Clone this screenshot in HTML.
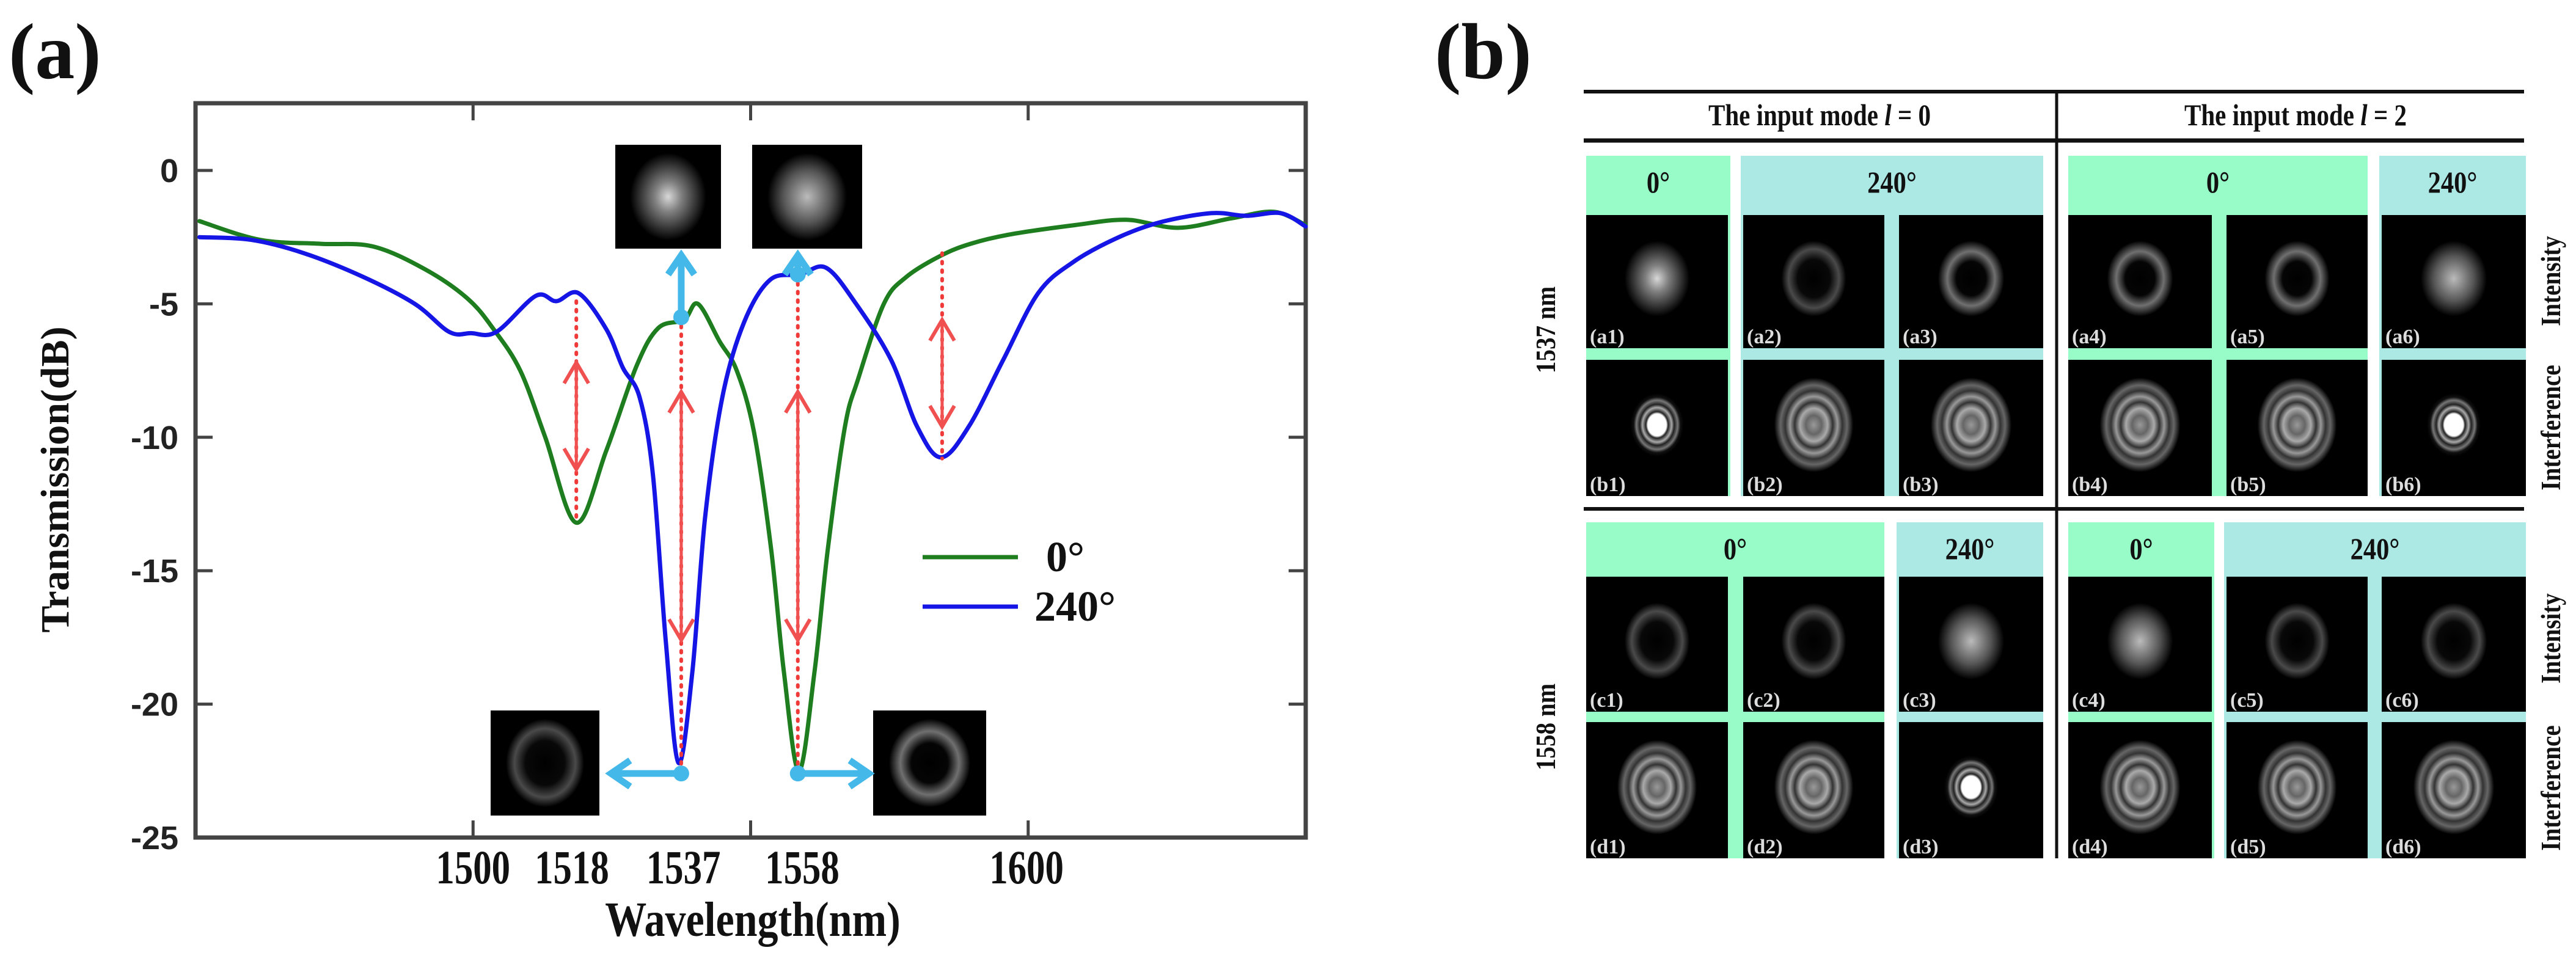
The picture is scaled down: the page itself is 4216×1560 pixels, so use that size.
<!DOCTYPE html>
<html><head><meta charset="utf-8"><style>
html,body{margin:0;padding:0;background:#fff;}
svg{display:block;}
.tk{font-family:"Liberation Sans",sans-serif;font-weight:bold;font-size:54px;fill:#222;}
.sf{font-family:"Liberation Serif",serif;font-weight:bold;fill:#111;}
</style></head><body>
<svg id="root" width="4216" height="1560" viewBox="0 0 4216 1560" xmlns="http://www.w3.org/2000/svg">
<defs>
<radialGradient id="spot"><stop offset="0" stop-color="#d8d8d8"/><stop offset="0.35" stop-color="#808080"/><stop offset="1" stop-color="#000"/></radialGradient>
<radialGradient id="spotw"><stop offset="0" stop-color="#bbb"/><stop offset="0.6" stop-color="#555"/><stop offset="1" stop-color="#000"/></radialGradient>
<radialGradient id="ring"><stop offset="0" stop-color="#000"/><stop offset="0.45" stop-color="#050505"/><stop offset="0.72" stop-color="#707070"/><stop offset="1" stop-color="#000"/></radialGradient>
<radialGradient id="ringd"><stop offset="0" stop-color="#000"/><stop offset="0.5" stop-color="#080808"/><stop offset="0.78" stop-color="#4a4a4a"/><stop offset="1" stop-color="#000"/></radialGradient>
<radialGradient id="bright"><stop offset="0" stop-color="#fff"/><stop offset="0.35" stop-color="#fff"/><stop offset="0.42" stop-color="#222"/><stop offset="0.55" stop-color="#aaa"/><stop offset="0.65" stop-color="#222"/><stop offset="0.78" stop-color="#777"/><stop offset="0.88" stop-color="#111"/><stop offset="1" stop-color="#000"/></radialGradient>
<radialGradient id="spiral"><stop offset="0" stop-color="#999"/><stop offset="0.2" stop-color="#666"/><stop offset="0.35" stop-color="#aaa"/><stop offset="0.48" stop-color="#333"/><stop offset="0.6" stop-color="#999"/><stop offset="0.72" stop-color="#333"/><stop offset="0.84" stop-color="#666"/><stop offset="1" stop-color="#000"/></radialGradient>
</defs>

<text class="sf" x="14" y="128" font-size="130">(a)</text>
<g id="chart"></g>

<text class="sf" x="2348" y="128" font-size="130">(b)</text>
<g id="tbl"></g>
</svg>

<script>
const lam0 = [1450.7,1461.6,1472.6,1482,1491.3,1499,1503.7,1508.5,1513,1518.6,1524,1529.5,1533.4,1538,1540.5,1544.4,1547.5,1550.6,1553.7,1556,1558.7,1561.5,1563.9,1567,1569.4,1574,1578,1584.2,1589.6,1596.7,1608.4,1617.7,1627,1636.5,1644.3,1650];
const db0 = [-1.9,-2.6,-2.75,-2.85,-3.7,-4.8,-5.95,-7.5,-10,-13.2,-10.5,-7.3,-5.9,-5.6,-5.0,-6.4,-7.5,-9.8,-14.2,-18.8,-22.5,-18.8,-14.2,-9.6,-7.8,-5.0,-4.0,-3.2,-2.75,-2.4,-2.05,-1.85,-2.15,-1.8,-1.55,-2.05];
const lam240 = [1450.7,1460,1469.5,1480.3,1489.5,1495.7,1499.6,1504.2,1511.3,1515,1519,1524,1527,1530,1532.4,1534.7,1537,1539.5,1541.8,1544.9,1548.8,1553.5,1558.9,1563.6,1569,1575.3,1580,1584.3,1589.3,1595.5,1601.8,1608,1615.8,1623.6,1633,1639.3,1645.5,1650];
const db240 = [-2.5,-2.6,-3.1,-4.0,-5.0,-6.05,-6.1,-6.05,-4.7,-4.9,-4.6,-5.95,-7.4,-8.5,-11.4,-17.6,-22.2,-18.8,-13,-8.5,-5.7,-4.1,-3.9,-3.65,-5.0,-7.1,-9.6,-10.75,-9.6,-7.1,-4.6,-3.45,-2.55,-1.95,-1.6,-1.7,-1.6,-2.1];
const yTicks = [0,-5,-10,-15,-20,-25];
const xTicks = [1500,1550,1600];
const xLabels = [1500,1518,1537,1558,1600];
const xLabelPos = [1500,1517.8,1537.9,1559.3,1599.7];
const markLam = [1518.6,1537.5,1558.5,1584.5];
const markTop = [-4.9,-5.5,-3.9,-3.1];
const markBot = [-13.2,-22.5,-22.6,-10.8];
const markUp = [-7.2,-8.3,-8.3,-5.6];
const markDn = [-11.2,-17.6,-17.6,-9.6];

const NS="http://www.w3.org/2000/svg";
const X0=320,X1=2137,Y0=169,Y1=1371;
const xs = l => X0 + (l-1450)*(X1-X0)/200;
const ys = d => 279 + (-d)*(Y1-279)/25;
function mk(tag, attrs, parent){const e=document.createElementNS(NS,tag);for(const k in attrs)e.setAttribute(k,attrs[k]);parent.appendChild(e);return e;}
const g=document.getElementById('chart');

let fr=mk('rect',{x:X0,y:Y0,width:X1-X0,height:Y1-Y0,fill:'none',stroke:'#444','stroke-width':7},g);


yTicks.forEach(v=>{
  const y=ys(v);
  let t=mk('line',{x1:X0,x2:X0+28,y1:y,y2:y,stroke:'#444','stroke-width':5},g);
  
  
  let t2=mk('line',{x1:X1-28,x2:X1,y1:y,y2:y,stroke:'#444','stroke-width':5},g);
  
  
  let lb=mk('text',{x:292,y:y+19,'text-anchor':'end','class':'tk'},g);
  lb.textContent=String(v);
  
  
});
xTicks.forEach(v=>{
  const x=xs(v);
  let t=mk('line',{x1:x,x2:x,y1:Y1,y2:Y1-28,stroke:'#444','stroke-width':5},g);
  
  
  let t2=mk('line',{x1:x,x2:x,y1:Y0,y2:Y0+28,stroke:'#444','stroke-width':5},g);
  
  
});
xLabels.forEach((v,i)=>{
  let lb=mk('text',{x:0,y:0,'text-anchor':'middle','class':'sf','font-size':78,transform:`translate(${xs(xLabelPos[i])},1446) scale(0.78,1)`},g);
  lb.textContent=String(v);
  
  
});
let xt=mk('text',{x:0,y:0,'text-anchor':'middle','class':'sf','font-size':80,transform:'translate(1232,1532) scale(0.85,1)'},g);
xt.textContent='Wavelength(nm)';


let yt=mk('text',{x:0,y:0,'text-anchor':'middle','class':'sf','font-size':66,transform:'translate(112,785) rotate(-90)'},g);
yt.textContent='Transmission(dB)';



function inset(x,y,w,h,fill,name){
  let r=mk('rect',{x:x,y:y,width:w,height:h,fill:'#000'},g);
  
  
  mk('ellipse',{cx:x+w/2,cy:y+h/2,rx:w*0.36,ry:h*0.42,fill:`url(#${fill})`},g);
}
inset(1007,237,173,170,'spot','inset-1537-spot');
inset(1231,237,180,170,'spotw','inset-1558-spot');
inset(803,1163,178,172,'ringd','inset-1537-ring');
inset(1429,1163,185,172,'ring','inset-1558-ring');

function series(L,D,color,name){
  const P=L.map((l,i)=>[xs(l),ys(D[i])]);
  let d='M'+P[0][0].toFixed(1)+','+P[0][1].toFixed(1);
  for(let i=0;i<P.length-1;i++){
    const p0=P[Math.max(0,i-1)],p1=P[i],p2=P[i+1],p3=P[Math.min(P.length-1,i+2)];
    const c1=[p1[0]+(p2[0]-p0[0])/6,p1[1]+(p2[1]-p0[1])/6];
    const c2=[p2[0]-(p3[0]-p1[0])/6,p2[1]-(p3[1]-p1[1])/6];
    d+=`C${c1[0].toFixed(1)},${c1[1].toFixed(1)} ${c2[0].toFixed(1)},${c2[1].toFixed(1)} ${p2[0].toFixed(1)},${p2[1].toFixed(1)}`;
  }
  let p=mk('path',{d:d,fill:'none',stroke:color,'stroke-width':7,'stroke-linejoin':'round','stroke-linecap':'round'},g);
  
  
}
series(lam0,db0,'#1e7d1e','series-0deg');
series(lam240,db240,'#1515e6','series-240deg');

markLam.forEach((l,i)=>{
  const x=xs(l);
  let ln=mk('line',{x1:x,x2:x,y1:ys(markTop[i]),y2:ys(markBot[i]),stroke:'#f03a3a','stroke-width':6,'stroke-dasharray':'3 11','stroke-linecap':'round'},g);
  
  
  const yu=ys(markUp[i]), yd=ys(markDn[i]);
  mk('line',{x1:x,x2:x,y1:yu,y2:yd,stroke:'#f05050','stroke-width':5},g);
  mk('path',{d:`M${x-20},${yu+34}L${x},${yu}L${x+20},${yu+34}M${x-20},${yd-34}L${x},${yd}L${x+20},${yd-34}`,fill:'none',stroke:'#f05050','stroke-width':6},g);
});

const cy='#45b8ea';
function carrow(x1,y1,x2,y2,name){
  let a=mk('line',{x1:x1,y1:y1,x2:x2,y2:y2,stroke:cy,'stroke-width':11},g);
  
  
  const ang=Math.atan2(y2-y1,x2-x1),s=38;
  const p1=[x2-s*Math.cos(ang-0.6),y2-s*Math.sin(ang-0.6)],p2=[x2-s*Math.cos(ang+0.6),y2-s*Math.sin(ang+0.6)];
  mk('path',{d:`M${p1}L${x2},${y2}L${p2}`,fill:'none',stroke:cy,'stroke-width':11},g);
  mk('circle',{cx:x1,cy:y1,r:13,fill:cy},g);
}
carrow(xs(1537.5),ys(-5.5),xs(1537.5),418,'arrow-up-1537');
carrow(xs(1558.5),ys(-3.9),xs(1558.5),418,'arrow-up-1558');
carrow(xs(1537.5),ys(-22.6),1000,ys(-22.6),'arrow-left-1537');
carrow(xs(1558.5),ys(-22.6),1422,ys(-22.6),'arrow-right-1558');

let l1=mk('line',{x1:1510,x2:1666,y1:912,y2:912,stroke:'#1e7d1e','stroke-width':7},g);


let l2=mk('line',{x1:1510,x2:1666,y1:993,y2:993,stroke:'#1515e6','stroke-width':7},g);


let lt1=mk('text',{x:1712,y:935,'class':'sf','font-size':70},g);
lt1.textContent='0°';


let lt2=mk('text',{x:1693,y:1016,'class':'sf','font-size':70},g);
lt2.textContent='240°';



const t=document.getElementById('tbl');
const GREEN='#98fcc8', CYAN='#ace8e4';
function ln(x1,y1,x2,y2,w,name){let e=mk('line',{x1:x1,y1:y1,x2:x2,y2:y2,stroke:'#111','stroke-width':w},t);}
ln(2592,150,4131,150,6,'table-top-rule');
ln(2592,230,4131,230,7,'table-header-rule');
ln(2592,833,4131,833,6,'table-mid-rule');
ln(3366,150,3366,1405,5,'table-divider');
function txt(x,y,s,size,name,rot){
  let e=mk('text',{x:0,y:0,'text-anchor':'middle','class':'sf','font-size':size,transform:`translate(${x},${y})`+(rot?' rotate(-90)':'')+' scale(0.85,1)'},t);
  e.textContent=s;return e;
}
let h1=mk('text',{x:0,y:0,'text-anchor':'middle','class':'sf','font-size':50,transform:'translate(2978,205) scale(0.82,1)'},t);
h1.innerHTML='The input mode  <tspan font-style="italic">l</tspan> = 0';


let h2=mk('text',{x:0,y:0,'text-anchor':'middle','class':'sf','font-size':50,transform:'translate(3757,205) scale(0.82,1)'},t);
h2.innerHTML='The input mode <tspan font-style="italic">l</tspan> = 2';



const cols=[[2596,2832],[2849,3084],[3104,3344],[3385,3624],[3640,3875],[3894,4134]];
const blocks=[
 {hy:[255,345], rows:[[348,570],[585,812]], names:['a','b'], groups:[[0,0,GREEN,'0°'],[1,2,CYAN,'240°'],[3,4,GREEN,'0°'],[5,5,CYAN,'240°']],
  fills:[['spot','ringd','ring','ring','ring','spotw'],['bright','spiral','spiral','spiral','spiral','bright']]},
 {hy:[855,937], rows:[[940,1165],[1178,1405]], names:['c','d'], groups:[[0,1,GREEN,'0°'],[2,2,CYAN,'240°'],[3,3,GREEN,'0°'],[4,5,CYAN,'240°']],
  fills:[['ringd','ringd','spotw','spotw','ringd','ringd'],['spiral','spiral','bright','spiral','spiral','spiral']]}
];
blocks.forEach((b,bi)=>{
  b.groups.forEach(gr=>{
    const x1=cols[gr[0]][0], x2=cols[gr[1]][1];
    let r=mk('rect',{x:x1,y:b.hy[0],width:x2-x1,height:b.rows[1][1]-b.hy[0],fill:gr[2]},t);
    
    
    txt((x1+x2)/2,b.hy[0]+60,gr[3],50,'angle-header');
  });
  b.rows.forEach((row,ri)=>{
    cols.forEach((c,ci)=>{
      const x=c[0]+(ci%3===0?0:4), w=c[1]-c[0]-4, y=row[0]+4, h=row[1]-row[0]-4;
      let r=mk('rect',{x:x,y:y,width:w,height:h,fill:'#000'},t);
      
      
      const f=b.fills[ri][ci];
      const rr = f==='bright'?0.22:(f==='spiral'?0.33:0.27);
      mk('ellipse',{cx:x+w/2,cy:y+h/2-5,rx:w*rr*0.85,ry:h*rr*1.05,fill:`url(#${f})`},t);
      let lb=mk('text',{x:x+6,y:y+h-8,'font-family':'"Liberation Serif",serif','font-weight':'bold','font-size':34,fill:'#ddd'},t);
      lb.textContent='('+b.names[ri]+(ci+1)+')';
      
      
    });
  });
});
txt(2545,540,'1537 nm',46,'row-label-1537',true);
txt(2545,1190,'1558 nm',46,'row-label-1558',true);
txt(4190,460,'Intensity',46,'row-label-intensity',true);
txt(4190,700,'Interference',46,'row-label-interference',true);
txt(4190,1045,'Intensity',46,'row-label-intensity-2',true);
txt(4190,1290,'Interference',46,'row-label-interference-2',true);
</script>
</body></html>
